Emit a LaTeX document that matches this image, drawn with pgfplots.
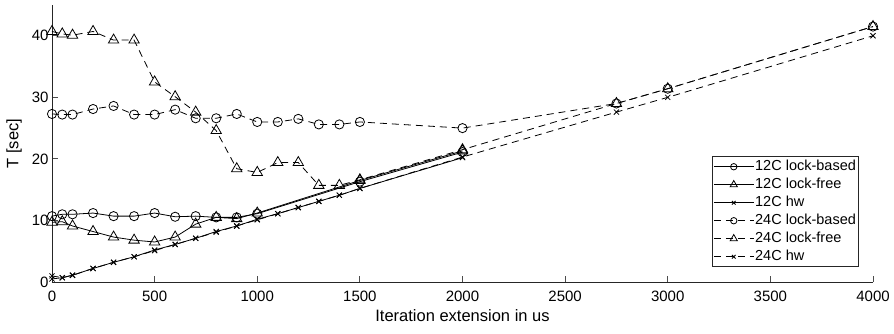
\documentclass[border=0pt]{standalone}
\usepackage{fontspec}
\setmainfont{Liberation Sans}
\usepackage{pgfplots}
\pgfplotsset{compat=1.18}
\begin{document}
\begin{tikzpicture}[x=1pt,y=1pt]
\begin{axis}[
  name=ax, at={(0,0)}, anchor=south west,
  scale only axis, width=821pt, height=277pt,
  xmin=0, xmax=4000, ymin=0, ymax=45,
  axis x line*=bottom, axis y line*=left,
  xtick={0,500,...,4000}, ytick={0,10,20,30,40},
  tick align=inside, major tick length=6pt,
  tick style={black!70, line width=0.8pt},
  axis line style={black!85, line width=0.8pt},
  tick label style={font=\fontsize{15}{17}\selectfont},
  xticklabel style={yshift=-5pt},
  /pgf/number format/assume math mode=true,
  /pgf/number format/set thousands separator={},
  xlabel={Iteration extension in us}, ylabel={T [sec]},
  label style={font=\fontsize{16.5}{19}\selectfont},
  xlabel style={yshift=-2pt},
  ylabel style={yshift=3pt},
  legend cell align=left,
  legend style={at={(0.982,0.054)}, anchor=south east, draw=black!85, line width=0.6pt,
    font=\fontsize{14.5}{17}\selectfont, inner sep=1pt, row sep=0pt, column sep=0pt,
    nodes={inner sep=1pt, text height=12pt, text depth=4pt}},
  legend image code/.code={\draw[mark repeat=2,mark phase=2,#1] plot coordinates {(0pt,0pt) (20pt,0pt) (40pt,0pt)};},
  legend image post style={every mark/.append style={scale=0.7}},
  every axis plot/.append style={line width=0.8pt, black},
]
\addplot[solid, mark=o, mark size=4.6pt, mark options={solid, fill=white}] coordinates {
(0,10.7) (50,11.0) (100,11.0) (200,11.2) (300,10.7) (400,10.7) (500,11.2) (600,10.6) (700,10.7) (800,10.5) (900,10.5) (1000,11.1) (1500,16.3) (2000,21.1)};
\addlegendentry{12C lock-based}
\addplot[solid, mark=triangle, mark size=6pt, mark options={solid, fill=white}] coordinates {
(0,9.7) (50,9.8) (100,9.1) (200,8.2) (300,7.3) (400,6.8) (500,6.5) (600,7.3) (700,9.4) (800,10.5) (900,10.3) (1000,11.2) (1500,16.5) (2000,21.3)};
\addlegendentry{12C lock-free}
\addplot[solid, mark=x, mark size=3.6pt, mark options={solid}] coordinates {
(0,0.5) (50,0.7) (100,1.1) (200,2.2) (300,3.2) (400,4.1) (500,5.2) (600,6.1) (700,7.1) (800,8.2) (900,9.1) (1000,10.2) (1100,11.1) (1200,12.1) (1300,13.1) (1400,14.1) (1500,15.2) (2000,20.2)};
\addlegendentry{12C hw}
\addplot[dash pattern=on 7pt off 5pt, mark=o, mark size=4.6pt, mark options={solid, fill=none}] coordinates {
(0,27.3) (50,27.2) (100,27.2) (200,28.1) (300,28.6) (400,27.2) (500,27.2) (600,28.0) (700,26.6) (800,26.6) (900,27.3) (1000,26.0) (1100,26.0) (1200,26.5) (1300,25.6) (1400,25.6) (1500,26.0) (2000,25.0) (2750,29.0) (3000,31.4) (4000,41.5)};
\addlegendentry{24C lock-based}
\addplot[dash pattern=on 7pt off 5pt, mark=triangle, mark size=6pt, mark options={solid, fill=none}] coordinates {
(0,40.7) (50,40.3) (100,40.1) (200,40.7) (300,39.3) (400,39.3) (500,32.5) (600,30.1) (700,27.6) (800,24.6) (900,18.4) (1000,17.8) (1100,19.4) (1200,19.4) (1300,15.7) (1400,15.7) (1500,16.6) (2000,21.5) (2750,29.0) (3000,31.4) (4000,41.5)};
\addlegendentry{24C lock-free}
\addplot[dash pattern=on 7pt off 5pt, mark=x, mark size=3.6pt, mark options={solid}] coordinates {
(0,1.0) (50,0.7) (100,1.1) (200,2.2) (300,3.2) (400,4.1) (500,5.1) (600,6.1) (700,7.1) (800,8.1) (900,9.1) (1000,10.1) (1100,11.1) (1200,12.1) (1300,13.1) (1400,14.1) (1500,15.2) (2000,20.3) (2750,27.6) (3000,30.0) (4000,40.0)};
\addlegendentry{24C hw}
\end{axis}
\pgfresetboundingbox
\path[use as bounding box] (-52pt,-51pt) rectangle (842pt,282pt);
\end{tikzpicture}
\end{document}
